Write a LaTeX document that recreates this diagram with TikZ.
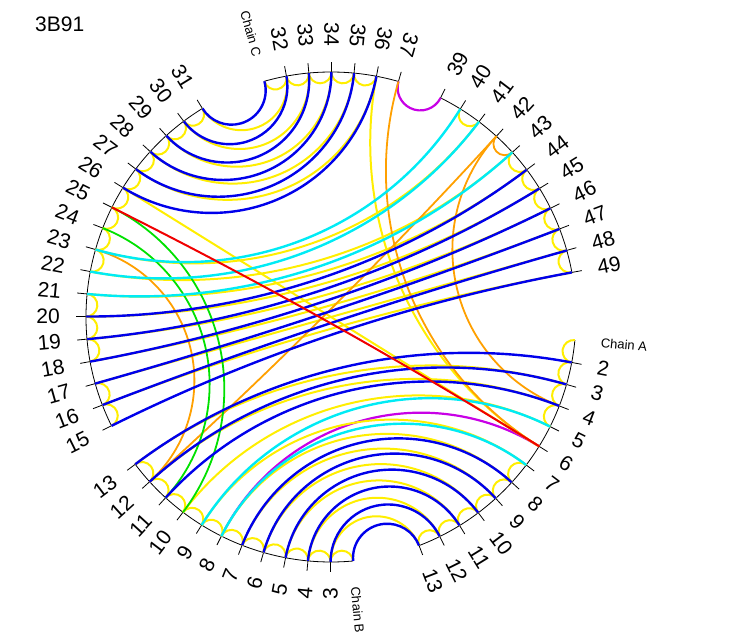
\documentclass[tikz,border=0pt]{standalone}
\usepackage{fontspec}
\setmainfont{Liberation Sans}
\definecolor{cblue}{RGB}{0,0,235}
\definecolor{cyel}{RGB}{255,238,0}
\definecolor{ccyan}{RGB}{0,235,245}
\definecolor{cgreen}{RGB}{0,225,0}
\definecolor{corange}{RGB}{255,160,0}
\definecolor{cred}{RGB}{240,0,0}
\definecolor{cmag}{RGB}{200,0,230}
\tikzset{
  hbblue/.style={draw=cblue,line width=2.4pt},
  hbyel/.style={draw=cyel,line width=2pt},
  hbcyan/.style={draw=ccyan,line width=2.4pt},
  hbgreen/.style={draw=cgreen,line width=1.8pt},
  hborange/.style={draw=corange,line width=1.8pt},
  hbred/.style={draw=cred,line width=2pt},
  hbmag/.style={draw=cmag,line width=2.2pt},
  rim/.style={draw=black,line width=0.8pt},
  tickmark/.style={draw=black,line width=0.8pt},
  numlab/.style={inner sep=0pt,font=\fontsize{21}{21}\selectfont},
  chainlab/.style={inner sep=0pt,font=\fontsize{13}{13}\selectfont},
}
\newcommand\Rr{245}
\newcommand\stp{5.2941176}
\newcommand\tz{-5.4}
\newcommand\flipA{70}
\newcommand\flipB{290}
% orthogonal arc between two residues
\newcommand\hb[3]{%
  \pgfmathtruncatemacro\hbka{\csname kk#1\endcsname}%
  \pgfmathtruncatemacro\hbkb{\csname kk#2\endcsname}%
  \pgfmathtruncatemacro\hbd{mod(\hbkb-\hbka+68,68)}%
  \ifnum\hbd>34
    \pgfmathtruncatemacro\hbd{68-\hbd}%
    \def\hbq{#1}\let\hbkq\hbka
  \else
    \def\hbq{#2}\let\hbkq\hbkb
  \fi
  \pgfmathsetmacro\hbt{\tz-\stp*\hbkq}%
  \ifnum\hbd=34
    \draw[#3] (#1) -- (#2);
  \else
    \pgfmathsetmacro\hbr{\Rr*tan(\hbd*\stp/2)}%
    \pgfmathsetmacro\hbs{\hbt-90}%
    \pgfmathsetmacro\hbe{\hbt+\hbd*\stp-270}%
    \draw[#3] (\hbq) arc[start angle=\hbs, end angle=\hbe, radius=\hbr];
  \fi
}
% tick and label
\newcommand\tl[2]{%
  \pgfmathsetmacro\lt{\tz-\stp*\csname kk#1\endcsname}%
  \draw[tickmark] (#1) -- ({\lt}:{\Rr+10});
  \pgfmathsetmacro\lnrm{mod(\lt+720,360)}%
  \pgfmathtruncatemacro\lf{and(\lnrm>\flipA,\lnrm<\flipB)}%
  \ifnum\lf=1
    \node[numlab,rotate=\lt+180,anchor=east] (t#1) at ({\lt}:{\Rr+26}) {#2};
  \else
    \node[numlab,rotate=\lt,anchor=west] (t#1) at ({\lt}:{\Rr+26}) {#2};
  \fi
}
\begin{document}
\begin{tikzpicture}[x=1pt,y=1pt]
\useasboundingbox (-331,-327) rectangle (405,317);
% residue positions
\foreach \n in {1,...,13}{%
  \pgfmathtruncatemacro\kk{\n-1}%
  \expandafter\xdef\csname kkA\n\endcsname{\kk}%
  \coordinate (A\n) at ({\tz-\stp*\kk}:\Rr);}
\foreach \n in {2,...,13}{%
  \pgfmathtruncatemacro\kk{\n+13}%
  \expandafter\xdef\csname kkB\n\endcsname{\kk}%
  \coordinate (B\n) at ({\tz-\stp*\kk}:\Rr);}
\foreach \n in {15,...,31}{%
  \pgfmathtruncatemacro\kk{\n+13}%
  \expandafter\xdef\csname kkB\n\endcsname{\kk}%
  \coordinate (B\n) at ({\tz-\stp*\kk}:\Rr);}
\foreach \n in {31,...,37}{%
  \pgfmathtruncatemacro\kk{\n+16}%
  \expandafter\xdef\csname kkC\n\endcsname{\kk}%
  \coordinate (C\n) at ({\tz-\stp*\kk}:\Rr);}
\foreach \n in {39,...,49}{%
  \pgfmathtruncatemacro\kk{\n+16}%
  \expandafter\xdef\csname kkC\n\endcsname{\kk}%
  \coordinate (C\n) at ({\tz-\stp*\kk}:\Rr);}
% rims
\draw[rim] (A1) arc[start angle=\tz, end angle={\tz-12*\stp}, radius=\Rr];
\draw[rim] (B2) arc[start angle={\tz-15*\stp}, end angle={\tz-26*\stp}, radius=\Rr];
\draw[rim] (B15) arc[start angle={\tz-28*\stp}, end angle={\tz-44*\stp}, radius=\Rr];
\draw[rim] (C31) arc[start angle={\tz-47*\stp}, end angle={\tz-53*\stp}, radius=\Rr];
\draw[rim] (C39) arc[start angle={\tz-55*\stp}, end angle={\tz-65*\stp}, radius=\Rr];
% ticks and labels
\foreach \n in {2,...,13}{\tl{A\n}{\n}}
\foreach \n in {3,...,13}{\tl{B\n}{\n}}
\foreach \n in {15,...,31}{\tl{B\n}{\n}}
\foreach \n in {32,...,37}{\tl{C\n}{\n}}
\foreach \n in {39,...,49}{\tl{C\n}{\n}}
\node[chainlab,rotate=\tz,anchor=west] (chA) at ({\tz}:{\Rr+26}) {Chain A};
\node[chainlab,rotate={\tz-15*\stp},anchor=west] (chB) at ({\tz-15*\stp}:{\Rr+26}) {Chain B};
\node[chainlab,rotate={\tz-47*\stp+180},anchor=east] (chC) at ({\tz-47*\stp}:{\Rr+26}) {Chain C};
\node[anchor=base west,inner sep=0pt,font=\fontsize{21}{21}\selectfont] (title) at (-296,285.3) {3B91};
% magenta
\hb{C37}{C39}{hbmag}
\hb{B8}{A6}{hbmag}
% yellow neighbours
\hb{A1}{A2}{hbyel}\hb{A2}{A3}{hbyel}\hb{A3}{A4}{hbyel}\hb{A4}{A5}{hbyel}
\hb{A7}{A8}{hbyel}\hb{A8}{A9}{hbyel}\hb{A9}{A10}{hbyel}\hb{A10}{A11}{hbyel}
\hb{A11}{A12}{hbyel}\hb{A12}{A13}{hbyel}
\foreach \n [evaluate=\n as \m using int(\n+1)] in {2,...,12}{\hb{B\n}{B\m}{hbyel}}
\foreach \n [evaluate=\n as \m using int(\n+1)] in {15,16,18,19,20,22,23,24,25,26,27,28,29,30}{\hb{B\n}{B\m}{hbyel}}
\foreach \n [evaluate=\n as \m using int(\n+1)] in {31,32,33,34,35,40,43,44,45,46,47,48}{\hb{C\n}{C\m}{hbyel}}
% yellow long
\hb{B31}{C32}{hbyel}\hb{B30}{C33}{hbyel}\hb{B29}{C34}{hbyel}\hb{B28}{C35}{hbyel}\hb{B27}{C36}{hbyel}
\hb{B26}{A6}{hbyel}\hb{C36}{A6}{hbyel}
\hb{B16}{C49}{hbyel}\hb{B17}{C48}{hbyel}\hb{B18}{C47}{hbyel}\hb{B19}{C46}{hbyel}
\hb{B20}{C45}{hbyel}\hb{B21}{C44}{hbyel}\hb{B22}{C43}{hbyel}\hb{B23}{C41}{hbyel}
\hb{B3}{A13}{hbyel}\hb{B4}{A12}{hbyel}\hb{B5}{A11}{hbyel}\hb{B6}{A10}{hbyel}
\hb{B7}{A9}{hbyel}\hb{B8}{A8}{hbyel}\hb{B9}{A7}{hbyel}\hb{B10}{A5}{hbyel}
\hb{B12}{A4}{hbyel}\hb{B13}{A3}{hbyel}
% orange
\hb{C42}{C43}{hborange}
\hb{B23}{B12}{hborange}
\hb{C42}{B12}{hborange}
\hb{C42}{A4}{hborange}
\hb{C37}{A6}{hborange}
% green
\hb{B25}{B10}{hbgreen}
\hb{B24}{B11}{hbgreen}
% cyan
\hb{B23}{C40}{hbcyan}\hb{B22}{C41}{hbcyan}\hb{B21}{C43}{hbcyan}
\hb{B9}{A5}{hbcyan}\hb{B8}{A7}{hbcyan}
% blue
\hb{B31}{C31}{hbblue}\hb{B30}{C32}{hbblue}\hb{B29}{C33}{hbblue}
\hb{B28}{C34}{hbblue}\hb{B27}{C35}{hbblue}\hb{B26}{C36}{hbblue}
\hb{B20}{C44}{hbblue}\hb{B19}{C45}{hbblue}\hb{B18}{C46}{hbblue}
\hb{B17}{C47}{hbblue}\hb{B16}{C48}{hbblue}\hb{B15}{C49}{hbblue}
\hb{B13}{A2}{hbblue}\hb{B12}{A3}{hbblue}\hb{B11}{A4}{hbblue}
\hb{B2}{A13}{hbblue}\hb{B3}{A12}{hbblue}\hb{B4}{A11}{hbblue}
\hb{B5}{A10}{hbblue}\hb{B6}{A9}{hbblue}\hb{B7}{A8}{hbblue}
% red
\hb{B25}{A6}{hbred}
\end{tikzpicture}
\end{document}
